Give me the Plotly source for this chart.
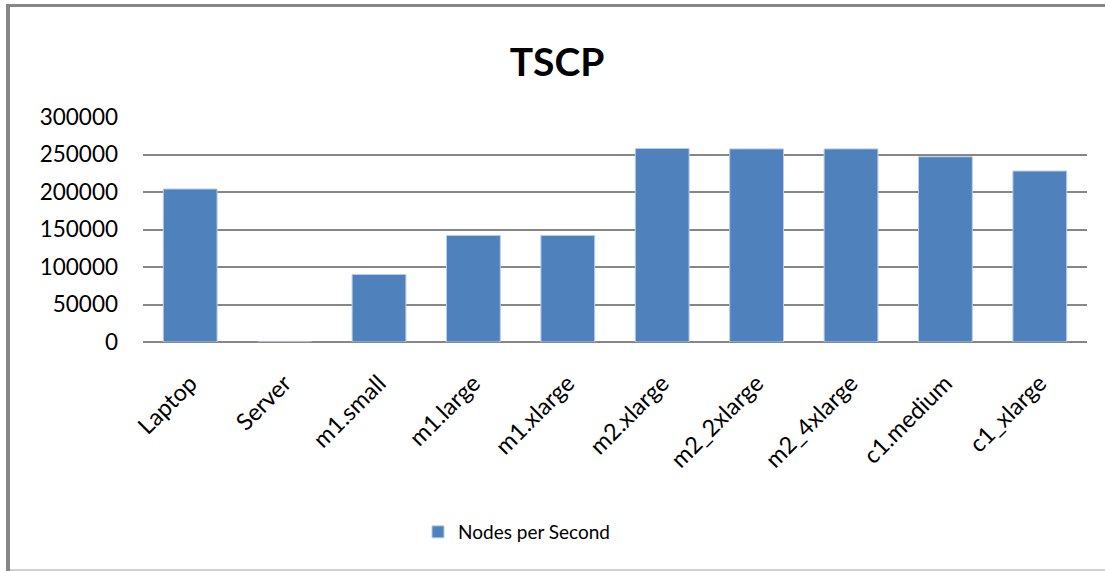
import plotly.graph_objects as go

# データ
categories = ["Laptop", "Server", "m1.small", "m1.large", "m1.xlarge",
              "m2.xlarge", "m2_2xlarge", "m2_4xlarge", "c1.medium", "c1_xlarge"]
nodes_per_second = [204000, 0, 90000, 142000, 142000,
                    258000, 257500, 257500, 247000, 228000]
y_ticks = [0, 50000, 100000, 150000, 200000, 250000, 300000]

FONT = "Lato"
W, H = 1105, 571
L, R, T = 143, W - 1087, 117
B = H - 342
plot_w = W - L - R
plot_h = H - T - B


def px_x(px):
    return (px - L) / plot_w


def px_y(py):
    return (H - B - py) / plot_h


fig = go.Figure()
fig.add_trace(go.Bar(
    x=categories,
    y=nodes_per_second,
    name="Nodes per Second",
    marker=dict(color="#4F81BD", line=dict(color="#B9CDE5", width=1)),
))

# 枠線
border = [
    (px_x(8), px_y(4), px_x(8), px_y(571), "#878787", 4),
    (px_x(6), px_y(5.5), px_x(1110), px_y(5.5), "#878787", 3),
    (px_x(10), px_y(570), px_x(1110), px_y(570), "#D0D0D0", 2),
]
for x0, y0, x1, y1, c, w in border:
    fig.add_shape(type="line", xref="paper", yref="paper",
                  x0=x0, y0=y0, x1=x1, y1=y1, line=dict(color=c, width=w))

fig.update_layout(
    width=W, height=H,
    margin=dict(l=L, r=R, t=T, b=B),
    paper_bgcolor="white",
    plot_bgcolor="white",
    font=dict(family=FONT, size=22, color="black"),
    title=dict(text="<b>TSCP</b>", x=557 / W, xanchor="center",
               y=1 - 62 / H, yanchor="middle",
               font=dict(family=FONT, size=39, color="black")),
    bargap=0.43,
    showlegend=True,
    legend=dict(orientation="h", x=px_x(418), xanchor="left",
                y=px_y(532), yanchor="middle",
                font=dict(family=FONT, size=19)),
    xaxis=dict(
        tickangle=-45,
        showgrid=False,
        showline=False,
        ticks="",
        ticklabelstandoff=22,
        tickfont=dict(family=FONT, size=23.5),
    ),
    yaxis=dict(
        range=[0, 300000],
        tickvals=y_ticks,
        ticktext=[str(v) for v in y_ticks],
        showgrid=True,
        gridcolor="#878787",
        gridwidth=1.5,
        zeroline=True,
        zerolinecolor="#878787",
        zerolinewidth=1.5,
        ticks="",
        ticklabelstandoff=24,
        tickfont=dict(family=FONT, size=22.5),
    ),
)

fig.write_html("out.html",
               config={"displayModeBar": False},
               post_script="document.body.style.margin='0';"
                           "document.body.style.overflow='hidden';")
